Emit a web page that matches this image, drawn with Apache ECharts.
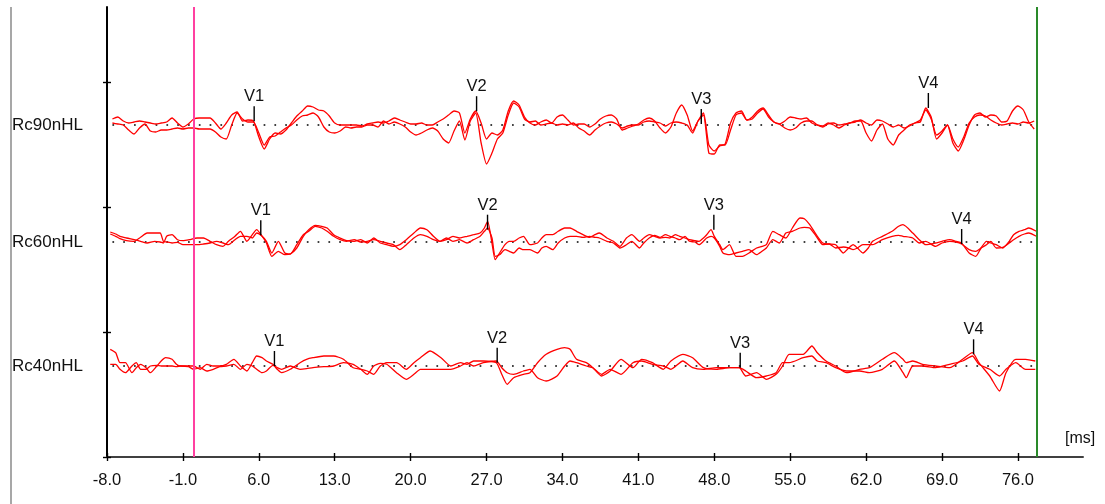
<!DOCTYPE html>
<html><head><meta charset="utf-8">
<script src="https://cdn.jsdelivr.net/npm/echarts@6/dist/echarts.min.js"></script>
<style>html,body{margin:0;padding:0;background:#fff}#c{width:1105px;height:504px}</style>
</head><body><div id="c"></div>
<script>
// ---------- data ----------
const xTicks = [-8,-1,6,13,20,27,34,41,48,55,62,69,76];
const yTicks = [0,125,250,375];
const traceNames = ['Rc90nHL','Rc60nHL','Rc40nHL'];
const traceBaselines = [332,215,91];
const stimulusTime = 0;
const windowEnd = 77.7;
const baselineSpan = [-7.5, 77.5];
const vLabels = ['V1','V2','V3','V4'];

// Rc90: sampled every 0.5 ms starting at -7.5 ms
const rc90A = [6,8,4,2,3,4,3,2,1,2,3,7,2,-2,1,
 6,7,7,7,2,-4,2,10,13,4,5,4,-12,-24,-14,-8,-9,-5,2,9,14,19,18,15,14,9,2,0,0,0,0,-1,1,2,3,2,4,7,5,3,
 1,1,2,0,0,3,6,10,14,12,-8,6,14,2,-14,-8,-10,-5,14,24,20,8,2,0,3,5,2,8,10,5,0,1,1,-2,1,6,9,10,6,-5,
 -3,-1,1,5,7,4,-3,-8,-2,12,20,10,-6,4,12,-20,-26,-21,-19,2,12,14,5,8,14,17,10,3,1,4,8,7,6,7,2,0,-1,2,0,-3,
 0,2,3,5,2,0,5,4,1,-2,0,-3,-1,2,3,17,8,-14,-8,0,-18,-26,-15,0,10,12,8,10,9,3,4,14,19,15,3,-4];
const rc90B = [2,1,0,-5,-9,-3,1,-6,-7,-5,-5,-4,-3,-4,-3,
 -3,-4,-4,-4,-7,-12,-14,0,12,6,3,3,-8,-20,-12,-11,-7,-3,0,5,9,10,12,8,-2,-7,-8,-6,-2,-3,-2,-2,0,0,-2,4,1,3,1,-2,
 -7,-10,-8,-5,-3,-6,-14,-18,-6,4,-15,4,12,-18,-39,-28,-14,-8,10,22,18,6,3,4,0,1,2,0,1,0,2,-3,-6,-10,-5,-1,2,3,1,-3,
 -1,0,0,3,4,3,2,-1,2,3,2,0,-8,4,10,-28,-29,-20,-20,-5,10,12,5,6,12,16,8,3,1,-3,-5,-3,2,4,4,0,-2,1,2,0,
 1,2,4,4,-8,-16,-5,1,-14,-20,-10,-5,0,2,5,15,6,-10,-6,0,-14,-22,-12,2,8,10,9,5,2,0,1,2,1,3,2,4];
const rc90Start = -7.5, rc90Step = 0.5;

const rc60Times = [-7.7,-7.2,-6.8,-6.2,-5.5,-4.9,-4.3,-3.6,-3.1,-2.8,
 -2.5,-2.0,-1.5,-1.0,-0.4,0.3,0.9,1.5,2.1,2.7,
 3.2,3.8,4.3,4.9,5.4,5.8,6.2,6.7,7.2,7.8,
 8.4,8.9,9.5,10.1,10.6,11.2,11.8,12.3,12.9,13.5,
 14.1,14.8,15.4,16.0,16.6,17.2,17.8,18.4,19.0,19.6,
 20.3,20.9,21.5,22.1,22.7,23.3,23.9,24.5,25.2,25.8,
 26.4,26.8,27.1,27.5,27.8,28.2,28.7,29.1,29.5,30.0,
 30.4,31.0,31.7,32.1,32.5,33.1,33.6,34.2,34.7,35.3,
 35.9,36.5,37.0,37.4,38.1,38.7,39.3,39.9,40.4,41.1,
 41.5,42.0,42.5,43.0,43.5,43.9,44.4,44.8,45.3,45.7,
 46.2,46.6,47.0,47.3,47.7,48.0,48.5,48.8,49.4,50.0,
 50.6,51.2,51.9,52.4,52.8,53.4,54.0,54.6,55.2,55.9,
 56.3,56.8,57.4,58.0,58.6,59.2,59.9,60.4,60.8,61.2,
 61.7,62.2,62.6,63.5,64.4,65.0,65.4,66.3,66.9,67.5,
 68.4,69.0,69.7,70.3,70.8,71.5,72.1,72.6,73.1,73.5,
 74.0,74.6,75.2,75.6,76.1,76.6,77.0,77.7];
const rc60A = [10,8,5.7,4,2.3,0.7,-1,0.7,0,-1,
 5.7,7.3,2.3,1.3,2.3,4,4,0.7,-2.7,-4.3,
 0.7,5.7,10.7,0.7,7.3,12.3,7.3,-1,-14.3,-9.3,
 -12.7,-12,-6,5.7,12.3,16.7,15.7,14,7.3,4,
 1.3,0.7,2.3,-1,4,-1,-2.7,-4.3,-2.7,2.3,
 9,14,12.3,5.7,0.7,2.3,5.7,4,5.7,7.3,
 9,14,20.7,-1,-17.7,-11,-2.7,0.7,0.7,4,
 5.7,-2.7,-1,4,7.3,7.3,10.7,14,14,10.7,
 7.3,4.7,7.3,9,4,0.7,-4.3,4,7.3,0.7,
 4,7.3,5.7,4,4.7,4,7.3,5.7,4,2.3,
 1.3,0.7,4,7.3,12.3,5.7,-2.7,-7.7,-2.7,-14.3,
 -14.3,-11,-6,-4.3,-2.7,10.7,7.3,4,14,24,
 23.3,17.3,7.3,-1,-2,-2.7,-11,-6,-2.7,-6,
 -11,-6,0.7,5.7,10.7,15.7,17.3,9,2.3,-2.7,
 -1,0.7,2.3,0.7,-1,-11,-14.3,-6,0.7,-1,
 -2.7,-6,0.7,7.3,10.7,12.3,14,10.7];
const rc60B = [8,5.7,3.3,1.3,0.7,4.7,9,9,9,0.7,
 0,-1,-0.3,-2.7,-2.7,-2.7,-2,-1,0.7,-1,
 -2.7,2.3,5.7,5.7,4,9,6.7,0.7,-11,0.7,
 -11,-12,-2.7,7.3,10.7,15.7,14,10.7,5.7,2.3,
 0.7,2.3,0,0.7,2.3,0.7,-1,-2.7,-7.7,-2.7,
 4,7.3,5.7,2.3,0.7,4,0.7,2.3,-1,2.3,
 5.7,10.7,14,4,-14.3,-12.7,-7.7,-9.3,-11,-6,
 -7.7,-7.7,-11,-6,-4.3,-7.7,-1,4,5.7,5.7,
 4.7,5.7,4.7,4,0.7,-1,-6,-2.7,0.7,-6,
 -1,4,6.7,4.7,7.3,5.7,4,2.3,5.7,0.7,
 0,-2.7,0.7,4,5.7,4,-4.3,-11,-12.7,-11,
 -9.3,-7.7,-12.7,-9.3,-6,2.3,-1,9,10.7,14,
 14.7,14,5.7,-2.7,-2,-6,-5,-6,-7.7,-6,
 -2.7,-2.7,-2.7,2.3,5.7,6.7,5.7,4,-1,0.7,
 -4.3,-1,0.7,0,-2,-7.7,-9.3,-6,-2.7,0.7,
 -6,-5.3,-1,2.3,5.7,8,9,5.7];

const rc40Times = [-7.7,-7.2,-6.8,-6.3,-5.7,-5.3,-4.9,-4.4,-4.0,-3.4,
 -3.0,-2.6,-2.0,-1.6,-1.2,-0.5,0.0,0.6,1.2,1.8,
 2.4,3.0,3.7,4.3,4.9,5.4,5.8,6.3,6.7,7.3,
 7.7,8.1,8.9,9.8,10.4,11.0,12.0,12.9,13.8,14.7,
 15.4,16.0,16.6,17.2,17.8,18.7,19.6,20.3,20.9,21.8,
 22.8,23.7,24.6,25.2,25.8,26.7,27.9,28.4,28.9,29.5,
 30.4,31.0,31.7,32.5,33.5,34.2,34.7,35.3,36.2,36.8,
 37.6,38.4,39.4,40.5,41.3,42.3,43.3,44.0,45.1,46.0,
 47.0,48.2,49.4,50.3,50.9,51.9,52.8,53.7,54.3,54.9,
 56.2,57.0,57.5,58.3,59.2,60.2,61.4,62.3,63.5,64.6,
 65.4,65.7,66.3,67.2,68.4,69.7,70.9,71.8,72.4,73.4,
 74.3,74.9,75.8,76.7,77.6];
const rc40A = [16.7,13.3,3.3,3.3,-6.7,-1.7,1.7,-1.7,-6.7,0,
 5,8.3,6.7,1.7,0,0,0,-3.3,1.7,0,
 0,1.7,6.7,0,-5,3.3,10,8.3,5,1.7,
 -3.3,-6.7,-3.3,3.3,6.7,8.3,10,10,6.7,-1.7,
 -3.3,-5,-8.3,0,3.3,3.3,-3.3,3.3,8.3,15,
 8.3,0,3.3,1.7,5,5,3.3,-8.3,-18.3,-11.7,
 -8.3,-6.7,3.3,11.7,16.7,18.3,16.7,6.7,3.3,-1.7,
 -10,-5,6.7,-1.7,6.7,3.3,-3.3,5,11.7,8.3,
 -1.7,-3.3,-1.7,-1.7,-10,-6.7,-13.3,-8.3,0,11.7,
 11.7,20,13.3,5,0,-6.7,-3.3,-1.7,6.7,13.3,
 6.7,3.3,5,1.7,0,-1.7,6.7,13.3,3.3,-10,
 -25,-6.7,6.7,6.7,5];
const rc40B = [1.7,1.7,-3.3,-6.7,0,3.3,-3.3,-3.3,0,0.7,
 0,0,0,-0.7,0,-0.7,-3.3,-1.7,-5,-3.3,
 -0.7,0,1.7,-3.3,1.7,0,-3.3,-6.7,-5,0.7,
 -1.7,-3.3,0,-3.3,-2.7,-1.7,-0.7,0,3.3,1.7,
 -3.3,-8.3,0,2.7,1.7,-6.7,-13.3,-8.3,-3.3,-3.3,
 -3.3,-3.3,0,3.3,0,3.3,5,-1.7,-6.7,-8.3,
 -5,-3.3,-11.7,-15,-10,0,5,3.3,0,-1.7,
 -8.3,-3.3,-8.3,3.3,5,1.7,0,-3.3,5,-1.7,
 -3.3,-1.7,-1.7,-1.7,-5,-11.7,-10,-6.7,3.3,3.3,
 8.3,10,5,3.3,-1.7,-5,-5,-6.7,-3.3,5,
 -6.7,-11.7,0,0,-1.7,1.7,5,10,1.7,-3.3,
 -10,-3.3,3.3,-3.3,-3.3];

// wave markers: [time ms, amplitude at marker]
const rc90Marks = [[5.57,3.8],[26.08,13.8],[46.8,1],[67.74,17]];
const rc60Marks = [[6.18,6.7],[27.09,12.3],[47.96,12.3],[70.81,-2]];
const rc40Marks = [[7.44,0],[27.98,3.3],[50.39,-1.7],[71.91,11.7]];

// ---------- build ----------
const rc90Times = rc90A.map((_, i) => rc90Start + rc90Step * i); // sampling clock
function pairs(times, vals, base) {
  const out = []; const n = Math.min(times.length, vals.length);
  for (let i = 0; i < n; i++) out.push([times[i], base + vals[i]]);
  return out;
}
const traces = [
  {times: rc90Times, a: rc90A, b: rc90B, marks: rc90Marks},
  {times: rc60Times, a: rc60A, b: rc60B, marks: rc60Marks},
  {times: rc40Times, a: rc40A, b: rc40B, marks: rc40Marks}
];
const FONT = 'Liberation Sans, Arial, sans-serif';
const series = [];
const markData = [], markText = [];
traces.forEach((tr, k) => {
  const base = traceBaselines[k];
  series.push({
    type: 'line', silent: true, symbol: 'none', animation: false,
    data: [[baselineSpan[0], base], [baselineSpan[1], base]],
    lineStyle: {color: '#000', width: 1.7, type: [1.7, 9.1]}, z: 2,
    markLine: k === 0 ? {
      silent: true, symbol: 'none', animation: false, label: {show: false},
      data: [
        {xAxis: stimulusTime, lineStyle: {color: '#ff40a0', width: 2, type: 'solid'}},
        {xAxis: windowEnd, lineStyle: {color: '#2a8a2a', width: 2, type: 'solid'}}
      ]
    } : undefined
  });
  [tr.a, tr.b].forEach(vals => series.push({
    type: 'line', silent: true, symbol: 'none', animation: false, z: 3,
    smooth: 0.2,
    data: pairs(tr.times, vals, base),
    lineStyle: {color: '#ff0000', width: 1.3}
  }));
  tr.marks.forEach((m, j) => { markData.push([m[0], base + m[1]]); markText.push(vLabels[j]); });
});
series.push({
  type: 'custom', silent: true, animation: false, z: 5,
  data: markData,
  renderItem: (params, api) => {
    const p = api.coord([api.value(0), api.value(1)]);
    return {type: 'group', children: [
      {type: 'line', shape: {x1: p[0], y1: p[1], x2: p[0], y2: p[1] - 15},
       style: {stroke: '#000', lineWidth: 1.4}},
      {type: 'text', x: p[0], y: p[1] - 16,
       style: {text: markText[params.dataIndex], fill: '#111', font: '16.5px ' + FONT,
               align: 'center', verticalAlign: 'bottom'}}
    ]};
  }
});

const chart = echarts.init(document.getElementById('c'), null, {renderer: 'canvas'});
chart.setOption({
  animation: false,
  grid: {left: 107, top: 7, right: 22, bottom: 47},
  xAxis: [{
    type: 'value', min: -8, max: 82,
    axisLine: {show: true, onZero: false, lineStyle: {color: '#404040', width: 2}},
    axisTick: {show: true, length: 4, customValues: xTicks, lineStyle: {color: '#000', width: 1.4}},
    axisLabel: {show: true, customValues: xTicks, margin: 15, color: '#111', fontSize: 16.5, fontFamily: FONT,
                formatter: v => v.toFixed(1)},
    splitLine: {show: false}
  }, {
    type: 'value', min: -8, max: 82, position: 'bottom',
    axisLine: {show: false, onZero: false},
    axisTick: {show: true, inside: true, length: 4, customValues: xTicks, lineStyle: {color: '#000', width: 1.4}},
    axisLabel: {show: false}, splitLine: {show: false}
  }],
  yAxis: [{
    type: 'value', min: 0, max: 450,
    axisLine: {show: true, onZero: false, lineStyle: {color: '#000', width: 2}},
    axisTick: {show: true, length: 4, customValues: yTicks, lineStyle: {color: '#000', width: 1.4}},
    axisLabel: {show: true, customValues: traceBaselines, align: 'left', margin: 95,
                color: '#111', fontSize: 17, fontFamily: FONT,
                formatter: v => traceNames[traceBaselines.indexOf(v)] || ''},
    splitLine: {show: false}
  }, {
    type: 'value', min: 0, max: 450, position: 'left', offset: 0,
    axisLine: {show: false, onZero: false},
    axisTick: {show: true, inside: true, length: 4, customValues: yTicks, lineStyle: {color: '#000', width: 1.4}},
    axisLabel: {show: false}, splitLine: {show: false}
  }],
  graphic: [
    {type: 'line', silent: true, shape: {x1: 11, y1: 7, x2: 11, y2: 504}, style: {stroke: '#8a8a8a', lineWidth: 1.5}},
    {type: 'text', silent: true, left: 1065, top: 431, style: {text: '[ms]', fill: '#111', font: '16px ' + FONT}}
  ],
  series: series
});
</script></body></html>
